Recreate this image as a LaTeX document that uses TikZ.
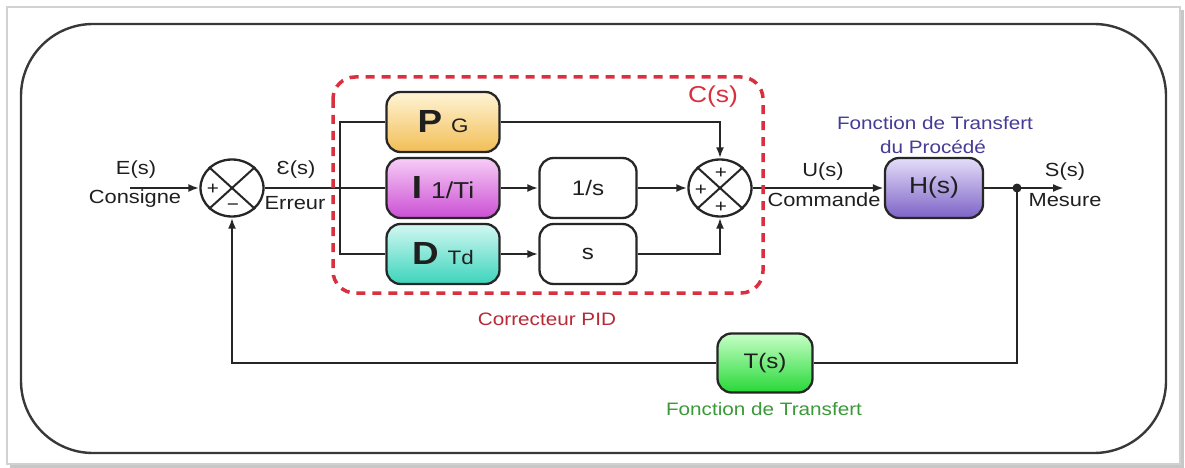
\documentclass[tikz,border=0pt]{standalone}
\usepackage{fontspec}
\setmainfont{Liberation Sans}[FakeStretch=1.15]
\usetikzlibrary{arrows.meta,shapes.geometric}

\definecolor{wirec}{HTML}{262626}
\definecolor{pidred}{HTML}{D8303F}
\definecolor{procblue}{HTML}{463C96}
\definecolor{feedgreen}{HTML}{3A9A3A}
\definecolor{ptop}{HTML}{FFF4D6}\definecolor{pbot}{HTML}{F2BE55}
\definecolor{itop}{HTML}{F7CDF7}\definecolor{ibot}{HTML}{CB4FD3}
\definecolor{dtop}{HTML}{D2F8F2}\definecolor{dbot}{HTML}{3CD4BC}
\definecolor{htop}{HTML}{E4DDF9}\definecolor{hbot}{HTML}{7D63C6}
\definecolor{ttop}{HTML}{C6FFC6}\definecolor{tbot}{HTML}{27D838}

% bold action letter followed by its parameter
\newcommand\pidterm[3]{{\fontsize{32}{32}\selectfont\bfseries #1}\hspace{9pt}{\fontsize{#3}{#3}\selectfont #2}}

\begin{document}
\begin{tikzpicture}[x=1pt,y=-1pt,
  wire/.style={line width=2.2pt, draw=wirec},
  arr/.style={wire, -{Latex[length=11pt,width=8pt]}},
  blk/.style={draw=wirec, line width=2.3pt, rounded corners=14pt,
    minimum height=60pt, inner sep=0pt, text=black!88},
  sumnode/.style={ellipse, draw=wirec, line width=2.3pt,
    minimum width=63pt, minimum height=57pt, inner sep=0pt},
  lbl/.style={font=\fontsize{19}{22}\selectfont, text=black!88, inner sep=0pt},
  sgn/.style={font=\fontsize{18}{18}\selectfont, text=black!90, inner sep=0pt},
]
\useasboundingbox (0,0) rectangle (1185,468);

% page frame with a soft shadow on the right and bottom
\fill[white] (0,0) rectangle (1185,468);
\draw[line width=3pt, black!22] (1182,10) -- (1182,466) -- (10,466);
\draw[line width=1.5pt, black!18] (7,7) rectangle (1180,464);

% rounded outer border
\draw[line width=2.4pt, black!78, rounded corners=72pt] (21,24) rectangle (1166,453);

% summing junctions
\node[sumnode] (s1) at (232,188) {};
\node[sumnode] (s2) at (720,188) {};
\foreach \s in {s1,s2}{
  \draw[line width=2pt, wirec] (\s.north west) -- (\s.south east);
  \draw[line width=2pt, wirec] (\s.north east) -- (\s.south west);
}
\node[sgn] (s1a) at (213,189) {+};
\node[sgn] (s1b) at (233,207) {−};
\node[sgn] (s2a) at (721,173) {+};
\node[sgn] (s2b) at (701,190) {+};
\node[sgn] (s2c) at (721,207) {+};

% PID branches
\node[blk, minimum width=113pt, top color=ptop, bottom color=pbot]
  (P) at (443,122) {\pidterm{P}{G}{19.5}\hspace{14pt}};
\node[blk, minimum width=113pt, top color=itop, bottom color=ibot]
  (I) at (443,188) {\pidterm{I}{1/Ti}{23}\hspace{4pt}};
\node[blk, minimum width=113pt, top color=dtop, bottom color=dbot]
  (D) at (443,254) {\pidterm{D}{Td}{19.5}\hspace{4pt}};
\node[blk, minimum width=97pt, fill=white, font=\fontsize{21}{22}\selectfont] (int) at (588,188) {1/s};
\node[blk, minimum width=97pt, fill=white, font=\fontsize{21}{22}\selectfont] (der) at (588,254) {s};

% process and measurement blocks
\node[blk, minimum width=98pt, top color=htop, bottom color=hbot,
      font=\fontsize{23}{24}\selectfont] (H) at (934,188) {H(s)};
\node[blk, minimum width=95pt, minimum height=59pt, top color=ttop, bottom color=tbot,
      font=\fontsize{21}{22}\selectfont] (T) at (765,363) {T(s)};

% helper points
\coordinate (in) at (130,188);
\coordinate (br) at (340,188);
\coordinate (dot) at (1017,188);
\coordinate (out) at (1064,188);

% connectors
\draw[arr] (in) -- (s1);
\draw[wire] (s1) -- (I);
\draw[wire] (P.west) -| (br) |- (D.west);
\draw[arr] (I) -- (int);
\draw[arr] (D) -- (der);
\draw[arr] (P.east) -| (s2.north);
\draw[arr] (int) -- (s2);
\draw[arr] (der.east) -| (s2.south);
\draw[arr] (s2) -- (H);
\draw[arr] (H) -- (out);
\draw[wire] (dot) |- (T.east);
\draw[arr] (T.west) -| (s1.south);
\fill[wirec] (dot) circle (4.5pt);

% controller boundary
\draw[pidred, line width=3.5pt, dash pattern=on 9pt off 7pt, rounded corners=22pt]
  (333,77) rectangle (763,293);

% signal labels
\node[lbl] (tE) at (136,170) {E(s)};
\node[lbl] (tCons) at (135,199) {Consigne};
\node[lbl] (tEps) at (296,170) {Ɛ(s)};
\node[lbl] (tErr) at (295,203) {Erreur};
\node[lbl] (tU) at (823,172) {U(s)};
\node[lbl] (tCmd) at (824,200) {Commande};
\node[lbl] (tS) at (1065,172) {S(s)};
\node[lbl] (tMes) at (1065,200) {Mesure};

% block captions
\node[inner sep=0pt, text=pidred, font=\fontsize{23}{24}\selectfont] (tC) at (713,97) {C(s)};
\node[inner sep=0pt, text=pidred!85!black, font=\fontsize{18}{20}\selectfont] (tPID) at (547,319) {Correcteur PID};
\node[inner sep=0pt, text=procblue, font=\fontsize{18}{20}\selectfont] (tProc1) at (935,123) {Fonction de Transfert};
\node[inner sep=0pt, text=procblue, font=\fontsize{18}{20}\selectfont] (tProc2) at (933,147) {du Procédé};
\node[inner sep=0pt, text=feedgreen, font=\fontsize{18}{20}\selectfont] (tFeed) at (764,409) {Fonction de Transfert};
\end{tikzpicture}
\end{document}
